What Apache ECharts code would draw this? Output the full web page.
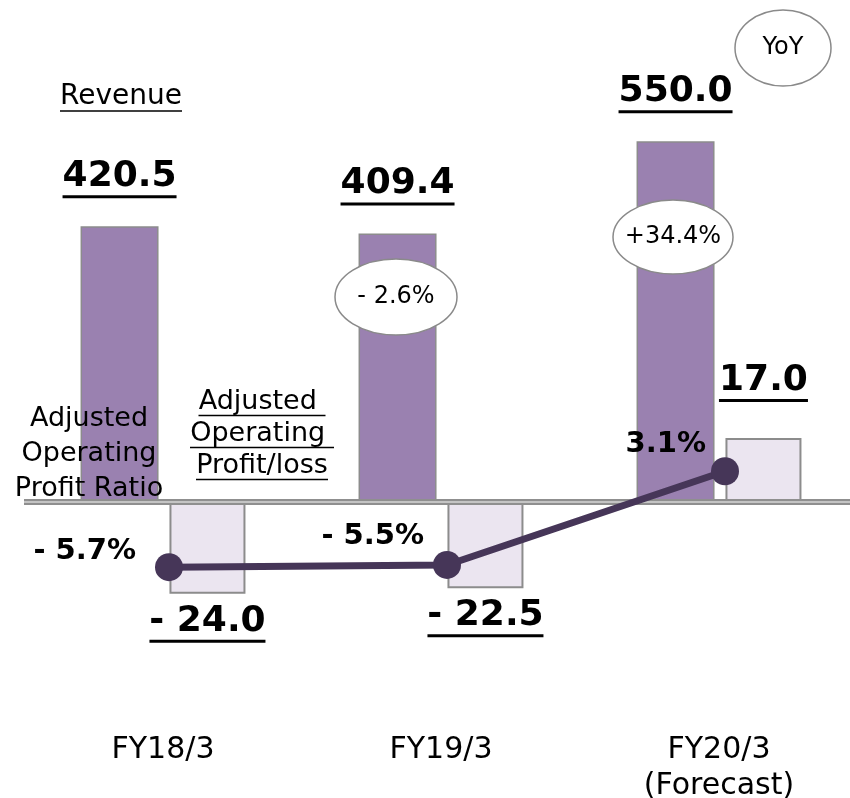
<!DOCTYPE html>
<html>
<head>
<meta charset="utf-8">
<script src="https://cdn.jsdelivr.net/npm/echarts@6/dist/echarts.min.js"></script>
<style>
  html, body { margin: 0; padding: 0; background: #fff; }
  #chart { width: 850px; height: 798px; }
</style>
</head>
<body>
<div id="chart"></div>
<script>
  const categories = ['FY18/3', 'FY19/3', 'FY20/3\n(Forecast)']
  const revenue = [420.5, 409.4, 550.0]
  const profit = [-24.0, -22.5, 17.0]
  const profitRatio = [-5.7, -5.5, 3.1]
  const yoy = ['', '- 2.6%', '+34.4%']

  const FONT = 'DejaVu Sans'
  const ctx = document.createElement('canvas').getContext('2d')
  function textWidth (str, size, weight) {
    ctx.font = (weight || 'normal') + ' ' + size + 'px "' + FONT + '"'
    return Math.round(ctx.measureText(str).width)
  }
  function fmt (v) {
    return v < 0 ? '- ' + Math.abs(v).toFixed(1) : v.toFixed(1)
  }
  // big bold number with a black bar under it (rich text has no underline)
  function bigLabel (str, position, distance) {
    return {
      show: true,
      position: position,
      distance: distance,
      formatter: '{v|' + str + '}\n{u| }',
      rich: {
        v: {fontSize: 36, fontWeight: 'bold', fontFamily: FONT, color: '#000', lineHeight: 37, align: 'center'},
        u: {width: textWidth(str, 36, 'bold'), height: 3, lineHeight: 3, backgroundColor: '#000', fontSize: 1, align: 'center'}
      }
    }
  }

  const revenueData = revenue.map(v => ({value: v, label: bigLabel(fmt(v), 'top', 28)}))
  const profitData = profit.map(v => ({
    value: v,
    label: v < 0 ? bigLabel(fmt(v), 'bottom', 9) : bigLabel(fmt(v), 'top', 36)
  }))
  const ratioOffsets = [[19, -16], [9, -28], [5, -27]]
  const ratioData = profitRatio.map((v, i) => ({
    value: v,
    label: {
      show: true,
      position: 'left',
      distance: ratioOffsets[i][0],
      offset: [0, ratioOffsets[i][1]],
      formatter: (v < 0 ? '- ' + Math.abs(v) : v) + '%',
      fontSize: 29,
      fontWeight: 'bold',
      fontFamily: FONT,
      color: '#000'
    }
  }))

  // plain annotation text with optional underline per line
  function note (lines, cx, y0, lh, size, underline) {
    const els = []
    lines.forEach((t, i) => {
      const y = y0 + i * lh
      els.push({type: 'text', x: cx, y: y, style: {text: t, font: size + 'px "' + FONT + '"', fill: '#000', align: 'center', verticalAlign: 'middle'}})
      if (underline) {
        const w = textWidth(t, size)
        els.push({type: 'line', shape: {x1: cx - w / 2, y1: y + size * 0.5, x2: cx + w / 2, y2: y + size * 0.5}, style: {stroke: '#000', lineWidth: 1.5}})
      }
    })
    return els
  }
  function bubble (text, cx, cy, rx, ry) {
    return [
      {type: 'ellipse', shape: {cx: cx, cy: cy, rx: rx, ry: ry}, style: {fill: '#fff', stroke: '#8a8a8a', lineWidth: 1.5}},
      {type: 'text', x: cx, y: cy, style: {text: text, font: '24px "' + FONT + '"', fill: '#000', align: 'center', verticalAlign: 'middle'}}
    ]
  }

  const chart = echarts.init(document.getElementById('chart'))
  chart.setOption({
    animation: false,
    backgroundColor: '#fff',
    grid: [
      {left: 24, width: 834, top: 43, height: 623, outerBoundsMode: 'none'},
      {left: 30, width: 834, top: 43, height: 623, outerBoundsMode: 'none'}
    ],
    xAxis: [
      {
        type: 'category',
        gridIndex: 0,
        data: categories,
        axisLine: {show: false},
        axisTick: {show: false},
        axisLabel: {fontSize: 30, fontFamily: FONT, color: '#000', lineHeight: 36, margin: 66}
      },
      {type: 'category', gridIndex: 1, data: categories, show: false}
    ],
    yAxis: [
      {type: 'value', gridIndex: 0, min: -250, max: 700, show: false},
      {type: 'value', gridIndex: 0, min: -43, max: 121, show: false},
      {type: 'value', gridIndex: 1, min: -14.77, max: 42.39, show: false}
    ],
    series: [
      {
        name: 'Revenue',
        type: 'bar',
        xAxisIndex: 0,
        yAxisIndex: 0,
        barWidth: 78,
        barGap: '14%',
        data: revenueData,
        itemStyle: {color: '#9a81b0', borderColor: '#8c8c8c', borderWidth: 1.5},
        markLine: {
          silent: true,
          symbol: 'none',
          label: {show: false},
          data: [
            {yAxis: 0, lineStyle: {color: '#8f8f8f', width: 6, type: 'solid'}},
            {yAxis: 0, lineStyle: {color: '#c4c4c4', width: 2, type: 'solid'}}
          ]
        }
      },
      {
        name: 'Adjusted Operating Profit/loss',
        type: 'bar',
        xAxisIndex: 0,
        yAxisIndex: 1,
        barWidth: 76,
        data: profitData,
        itemStyle: {color: '#ebe5f0', borderColor: '#8c8c8c', borderWidth: 2}
      },
      {
        name: 'Adjusted Operating Profit Ratio',
        type: 'line',
        xAxisIndex: 1,
        yAxisIndex: 2,
        data: ratioData,
        symbol: 'circle',
        symbolSize: 28,
        lineStyle: {color: '#463658', width: 7},
        itemStyle: {color: '#463658'},
        z: 5
      }
    ],
    graphic: [].concat(
      note(['Revenue'], 121, 97, 35, 28, true),
      note(['Adjusted', 'Operating', 'Profit Ratio'], 89, 419, 35, 27, false),
      note(['Adjusted ', 'Operating ', 'Profit/loss'], 262, 402, 32, 27, true),
      bubble('YoY', 783, 48, 48, 38),
      bubble(yoy[1], 396, 297, 61, 38),
      bubble(yoy[2], 673, 237, 60, 37)
    ).map(e => Object.assign(e, {z: 100}))
  })
</script>
</body>
</html>
